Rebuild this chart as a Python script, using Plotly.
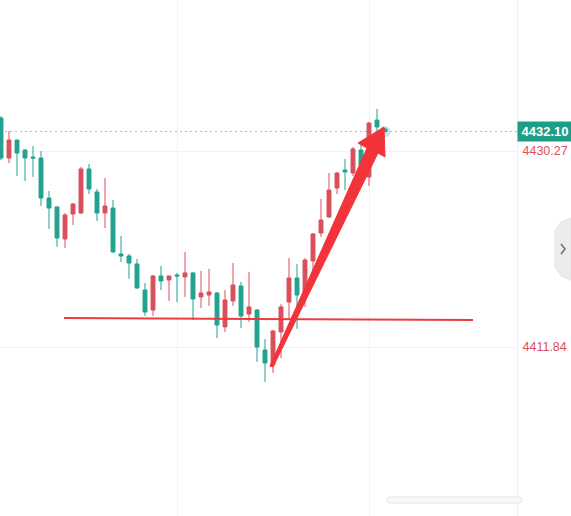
import plotly.graph_objects as go

# ---- data ----
bar_index = list(range(49))
opens = [4433.37, 4429.61, 4431.30, 4430.36, 4429.71, 4429.61, 4425.85, 4425.01, 4422.00, 4424.35,
         4424.44, 4428.58, 4426.42, 4424.44, 4424.91, 4420.59, 4420.40, 4419.65, 4417.20, 4415.32,
         4418.52, 4418.15, 4418.62, 4418.43, 4418.81, 4416.55, 4416.73, 4416.92, 4413.73, 4416.17,
         4417.58, 4414.94, 4415.32, 4411.56, 4410.15, 4413.26, 4416.07, 4418.33, 4416.55, 4419.93,
         4422.56, 4424.07, 4426.79, 4428.48, 4428.20, 4430.36, 4427.83, 4433.18, 4432.34]
highs = [4433.56, 4432.15, 4431.35, 4430.46, 4430.74, 4430.27, 4426.51, 4425.05, 4424.44, 4425.38,
         4428.77, 4429.05, 4426.70, 4427.73, 4425.66, 4422.28, 4420.59, 4420.12, 4417.86, 4418.62,
         4419.46, 4418.55, 4418.81, 4420.78, 4418.85, 4418.99, 4419.18, 4417.02, 4417.20, 4419.74,
         4417.96, 4418.90, 4415.42, 4412.59, 4413.44, 4415.89, 4420.21, 4419.65, 4420.21, 4422.56,
         4425.76, 4428.20, 4428.30, 4429.52, 4430.65, 4430.83, 4433.00, 4434.22, 4432.43]
lows = [4429.42, 4429.14, 4427.92, 4427.45, 4427.83, 4425.10, 4422.94, 4421.25, 4421.15, 4423.31,
        4424.35, 4426.23, 4423.69, 4423.03, 4420.68, 4419.84, 4418.24, 4417.30, 4414.76, 4414.76,
        4417.20, 4416.17, 4416.07, 4416.55, 4414.38, 4415.51, 4415.70, 4412.69, 4413.26, 4415.70,
        4413.63, 4414.20, 4410.43, 4408.56, 4409.40, 4410.81, 4414.38, 4413.54, 4415.61, 4418.90,
        4422.19, 4423.97, 4426.23, 4426.60, 4427.92, 4427.54, 4426.98, 4432.15, 4432.06]
closes = [4429.61, 4431.30, 4430.08, 4429.61, 4429.61, 4425.85, 4424.91, 4422.09, 4424.25, 4425.29,
          4428.58, 4426.70, 4424.44, 4425.10, 4420.78, 4420.40, 4419.74, 4417.39, 4415.13, 4418.52,
          4418.05, 4418.52, 4418.52, 4418.81, 4416.36, 4416.92, 4417.02, 4413.91, 4416.26, 4417.67,
          4414.76, 4415.61, 4411.84, 4410.34, 4413.35, 4415.61, 4418.33, 4416.73, 4420.02, 4422.47,
          4423.78, 4426.60, 4428.20, 4428.30, 4430.46, 4428.95, 4432.90, 4432.53, 4432.10]

price_ticks = [4430.27, 4411.84]
price_tick_labels = ["4430.27", "4411.84"]
time_grid = [22, 46]
last_price = 4432.10
last_label = "4432.10"

# drawn annotations (data coordinates: bar index, price)
support_x = [7.875, 59.0]
support_y = [4414.57, 4414.38]
arrow_x = [33.625, 34.0, 47.125, 48.0, 47.875, 44.625, 45.75]
arrow_y = [4410.05, 4409.96, 4430.08, 4429.71, 4432.53, 4431.02, 4430.55]

UP = "#d9505c"
DOWN = "#22a38f"
ARROW = "#f2343a"

fig = go.Figure()
fig.add_trace(go.Candlestick(
    x=bar_index, open=opens, high=highs, low=lows, close=closes,
    increasing=dict(line=dict(color=UP, width=1), fillcolor=UP),
    decreasing=dict(line=dict(color=DOWN, width=1), fillcolor=DOWN),
    whiskerwidth=0, hoverinfo="skip", showlegend=False,
))
# glow of the live bar
fig.add_trace(go.Scatter(
    x=[bar_index[-1]], y=[last_price], mode="markers",
    marker=dict(size=11, color="rgba(34,163,143,0.25)", line=dict(width=0)),
    hoverinfo="skip", showlegend=False,
))

shapes = []
# last price dotted line
shapes.append(dict(type="line", xref="paper", yref="y", x0=0, x1=1, y0=last_price, y1=last_price,
                   line=dict(color="#86cfc4", width=1, dash="2px,3px"), layer="below"))
# support line
shapes.append(dict(type="line", xref="x", yref="y", x0=support_x[0], x1=support_x[1],
                   y0=support_y[0], y1=support_y[1], line=dict(color="#ee3b3f", width=2)))
# arrow polygon
path = "M " + " L ".join(f"{x},{y}" for x, y in zip(arrow_x, arrow_y)) + " Z"
shapes.append(dict(type="path", xref="x", yref="y", path=path, fillcolor=ARROW,
                   line=dict(color=ARROW, width=1)))

W, H, PR = 571, 516, 517


def px(x):
    return x / PR


def py(y):
    return 1 - y / H


# collapse tab on the right
tab = [(571, 218), (561, 222), (555, 231), (555, 267), (561, 276), (571, 280)]
shapes.append(dict(type="path", xref="paper", yref="paper",
                   path="M " + " L ".join(f"{px(a)},{py(b)}" for a, b in tab) + " Z",
                   fillcolor="#ececec", line=dict(color="#e4e4e4", width=1)))
chev = [(561, 244), (565, 249), (561, 254)]
shapes.append(dict(type="path", xref="paper", yref="paper",
                   path="M " + " L ".join(f"{px(a)},{py(b)}" for a, b in chev),
                   line=dict(color="#6e6e6e", width=1.5)))
# scrollbar at bottom
x0, x1, y0, y1, r = 387, 522, 497, 503, 3
sb = (f"M {px(x0 + r)},{py(y0)} L {px(x1 - r)},{py(y0)} "
      f"Q {px(x1)},{py(y0)} {px(x1)},{py((y0 + y1) / 2)} "
      f"Q {px(x1)},{py(y1)} {px(x1 - r)},{py(y1)} L {px(x0 + r)},{py(y1)} "
      f"Q {px(x0)},{py(y1)} {px(x0)},{py((y0 + y1) / 2)} "
      f"Q {px(x0)},{py(y0)} {px(x0 + r)},{py(y0)} Z")
shapes.append(dict(type="path", xref="paper", yref="paper", path=sb,
                   fillcolor="#f8f8f8", line=dict(color="#e2e2e2", width=1)))

fig.update_layout(
    width=W, height=H,
    margin=dict(l=0, r=W - PR, t=0, b=0),
    paper_bgcolor="white", plot_bgcolor="white",
    shapes=shapes,
    showlegend=False,
    hovermode=False,
    font=dict(family="Liberation Sans, Arial, sans-serif"),
    xaxis=dict(range=[-0.125, 64.5], rangeslider=dict(visible=False),
               tickvals=time_grid, showticklabels=False, showgrid=True,
               gridcolor="#f1f2f4", gridwidth=1, zeroline=False, showline=False, ticks=""),
    yaxis=dict(side="right", range=[4395.95, 4444.47], tickvals=price_ticks,
               ticktext=price_tick_labels, tickfont=dict(color="#d9505c", size=12.5),
               showgrid=True, gridcolor="#f1f2f4", zeroline=False,
               showline=True, linecolor="#eceef1", linewidth=1, ticks="", ticklabelstandoff=2),
    annotations=[dict(xref="paper", yref="y", x=1, y=last_price, xanchor="left", yanchor="middle",
                      text=f"<b>{last_label}</b>", showarrow=False, bgcolor="#1f9e87",
                      font=dict(color="white", size=13), borderpad=2, width=50)],
)

fig.write_html("out.html", config={"displayModeBar": False},
               post_script="document.body.style.margin='0';document.body.style.overflow='hidden';")
